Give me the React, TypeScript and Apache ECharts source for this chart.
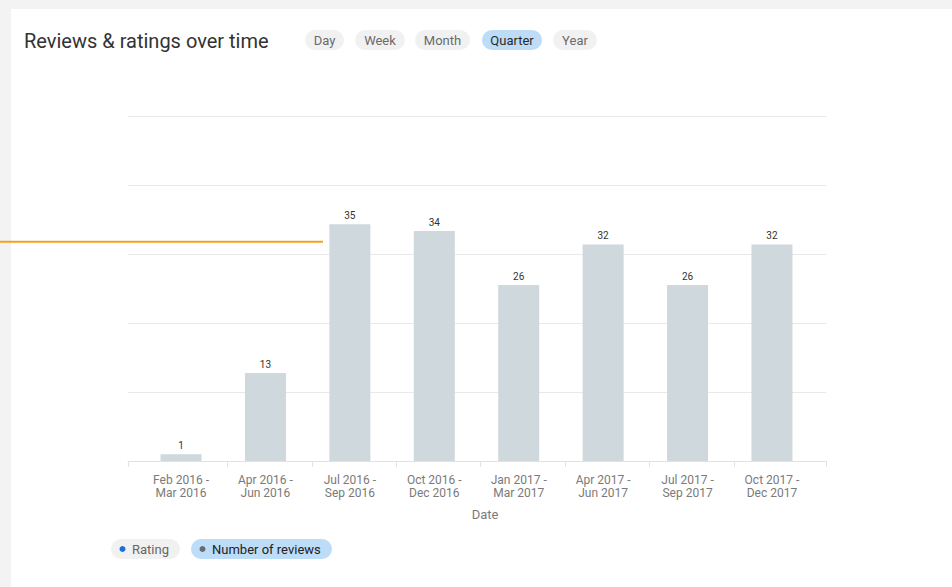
import React, { useEffect, useRef } from "react";
import * as echarts from "echarts";

const categories = [
  "Feb 2016 -\nMar 2016",
  "Apr 2016 -\nJun 2016",
  "Jul 2016 -\nSep 2016",
  "Oct 2016 -\nDec 2016",
  "Jan 2017 -\nMar 2017",
  "Apr 2017 -\nJun 2017",
  "Jul 2017 -\nSep 2017",
  "Oct 2017 -\nDec 2017",
];
const reviewCounts = [1, 13, 35, 34, 26, 32, 26, 32];
const periodButtons = ["Day", "Week", "Month", "Quarter", "Year"];
const selectedPeriod = "Quarter";
const legendItems = ["Rating", "Number of reviews"];
const legendColors = ["#1a6fd8", "#666b70"];
const chartTitle = "Reviews & ratings over time";
const axisName = "Date";

const FONT = "Roboto, 'Noto Sans', sans-serif";

export default function App() {
  const ref = useRef<HTMLDivElement>(null);
  useEffect(() => {
    if (!ref.current) return;
    const chart = echarts.init(ref.current, undefined, { renderer: "svg" });

    const btnX = [305, 355, 415, 482, 553];
    const btnW = [39, 50, 55, 60, 44];
    const buttons: any[] = periodButtons.map((b, i) => {
      const sel = b === selectedPeriod;
      return {
        type: "group",
        children: [
          {
            type: "rect",
            shape: { x: btnX[i], y: 30, width: btnW[i], height: 20, r: 10 },
            style: { fill: sel ? "#bcdcf7" : "#f1f1f1" },
          },
          {
            type: "text",
            style: {
              x: btnX[i] + btnW[i] / 2,
              y: 40.5,
              text: b,
              fill: sel ? "#2a2a2a" : "#6b6b6b",
              fontSize: 13,
              fontFamily: FONT,
              textAlign: "center",
              textVerticalAlign: "middle",
            },
          },
        ],
      };
    });

    const legX = [111, 191];
    const legW = [69, 141];
    const legend: any[] = legendItems.map((l, i) => {
      const active = i === 1;
      return {
        type: "group",
        children: [
          {
            type: "rect",
            shape: { x: legX[i], y: 539, width: legW[i], height: 20, r: 10 },
            style: { fill: active ? "#bcdcf7" : "#f1f1f1" },
          },
          {
            type: "circle",
            shape: { cx: legX[i] + 11.5, cy: 549, r: 3 },
            style: { fill: legendColors[i] },
          },
          {
            type: "text",
            style: {
              x: legX[i] + 21,
              y: 549.5,
              text: l,
              fill: active ? "#222" : "#666",
              fontSize: 13,
              fontFamily: FONT,
              textAlign: "left",
              textVerticalAlign: "middle",
            },
          },
        ],
      };
    });

    chart.setOption({
      animation: false,
      backgroundColor: "transparent",
      textStyle: { fontFamily: FONT },
      grid: { left: 128, right: 126, top: 116, bottom: 126, containLabel: false },
      xAxis: {
        type: "value",
        min: -0.628,
        max: 7.64,
        splitLine: { show: false },
        axisLine: { show: true, lineStyle: { color: "#e2e2e2", width: 1 } },
        axisTick: {
          show: true,
          length: 6,
          lineStyle: { color: "#e2e2e2" },
          customValues: [-0.628, 0.55, 1.55, 2.55, 3.55, 4.55, 5.55, 6.55, 7.64],
        },
        axisLabel: {
          customValues: [0, 1, 2, 3, 4, 5, 6, 7],
          formatter: (v: number) => categories[Math.round(v)] ?? "",
          color: "#7a7a7a",
          fontSize: 12,
          lineHeight: 13,
          margin: 12,
          fontFamily: FONT,
          showMinLabel: true,
          showMaxLabel: true,
          hideOverlap: false,
        },
        name: axisName,
        nameLocation: "middle",
        nameGap: 47,
        nameTextStyle: {
          color: "#7a7a7a",
          fontSize: 13,
          fontFamily: FONT,
          padding: [0, 0, 0, 16],
        },
      },
      yAxis: [
        { type: "value", min: 0, max: 51, show: false },
        {
          type: "value",
          min: 0,
          max: 5,
          interval: 1,
          position: "left",
          axisLine: { show: false },
          axisTick: { show: false },
          axisLabel: { show: false },
          splitLine: { show: true, lineStyle: { color: "#e9e9e9", width: 1 } },
        },
      ],
      series: [
        {
          name: "Number of reviews",
          type: "bar",
          yAxisIndex: 0,
          barWidth: 41,
          data: reviewCounts.map((v, i) => [i, v]),
          itemStyle: { color: "#cfd8dc" },
          label: {
            show: true,
            position: "top",
            distance: 4,
            fontSize: 10,
            color: "#333",
            fontFamily: FONT,
          },
        },
      ],
      graphic: [
        {
          type: "text",
          style: {
            x: 24,
            y: 40.5,
            text: chartTitle,
            fill: "#333",
            fontSize: 20,
            fontFamily: FONT,
            textAlign: "left",
            textVerticalAlign: "middle",
          },
        },
        ...buttons,
        ...legend,
        {
          type: "line",
          shape: { x1: 0, y1: 241.7, x2: 323, y2: 241.7 },
          style: { stroke: "#f4a21c", lineWidth: 2 },
        },
      ],
    });
    return () => chart.dispose();
  }, []);

  return (
    <div style={{ position: "fixed", left: 0, top: 0, width: 952, height: 587, background: "#f3f3f3" }}>
      <div style={{ position: "absolute", left: 11, top: 9, right: 0, bottom: 0, background: "#ffffff" }} />
      <div ref={ref} style={{ position: "absolute", left: 0, top: 0, width: 952, height: 587 }} />
    </div>
  );
}
